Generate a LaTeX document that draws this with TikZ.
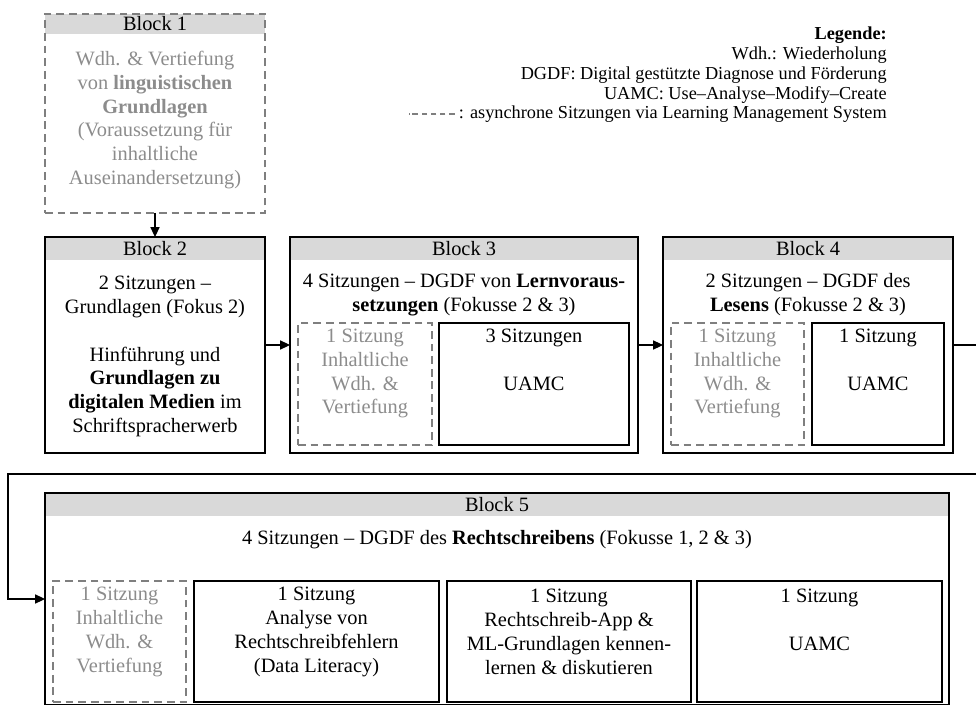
\documentclass[tikz,border=0pt]{standalone}
\usepackage{fontspec}
\setmainfont{Liberation Serif}
\usetikzlibrary{arrows.meta}

\definecolor{headgray}{HTML}{D9D9D9}
\definecolor{asyncgray}{HTML}{8C8C8C}
\definecolor{asyncline}{HTML}{7F7F7F}

\tikzset{
  sessiontext/.style={align=center, inner sep=0pt, font=\fontsize{14.5}{17}\selectfont},
  asynctext/.style={sessiontext, text=asyncgray},
  legendtext/.style={inner sep=0pt, font=\fontsize{13}{14.2}\selectfont},
  blockhead/.style={sessiontext, fill=headgray, outer sep=0pt, minimum width=#1, minimum height=0.575cm},
  blockbox/.style={draw, line width=1.3pt, outer sep=0pt, inner sep=0pt, minimum width=#1},
  asyncbox/.style={draw=asyncline, line width=1.3pt, dash pattern=on 5.5pt off 3.5pt,
                   outer sep=0pt, inner sep=0pt, minimum width=#1},
  flow/.style={->, line width=0.75pt},
}

\begin{document}
\begin{tikzpicture}[>={Triangle[length=7pt,width=6.5pt]}]
\useasboundingbox (0,0) rectangle (24.4,17.6);
\clip (0,0) rectangle (24.4,17.6);

% Block 1 (asynchron)
\node[blockhead=5.5cm, minimum height=0.5cm] (head1) at (3.875,17.0) {Block 1};
\node[asyncbox=5.5cm, minimum height=4.975cm, anchor=north] (block1) at (head1.north) {};
\node[asynctext] (text1) at (3.875,14.6) {Wdh. \& Vertiefung\\von \textbf{linguistischen}\\\textbf{Grundlagen}\\(Voraussetzung für\\inhaltliche\\Auseinandersetzung)};

% Block 2
\node[blockhead=5.5cm] (head2) at (3.875,11.3875) {Block 2};
\node[blockbox=5.5cm, minimum height=5.4cm, anchor=north] (block2) at (head2.north) {};
\node[sessiontext] (text2) at (3.875,8.6875) {2 Sitzungen –\\Grundlagen (Fokus 2)\\[17pt]Hinführung und\\\textbf{Grundlagen zu}\\\textbf{digitalen Medien} im\\Schriftspracherwerb};

% Block 3
\node[blockhead=8.7cm] (head3) at (11.6,11.3875) {Block 3};
\node[blockbox=8.7cm, minimum height=5.4cm, anchor=north] (block3) at (head3.north) {};
\node[sessiontext] (text3) at (11.6,10.225) {4 Sitzungen – DGDF von \textbf{Lernvoraus-}\\\textbf{setzungen} (Fokusse 2 \& 3)};
\node[asyncbox=3.35cm, minimum height=3.05cm] (wdh3) at (9.125,8.0) {};
\node[asynctext] (wdh3text) at (9.125,8.26) {1 Sitzung\\Inhaltliche\\Wdh. \&\\Vertiefung};
\node[blockbox=4.75cm, minimum height=3.05cm] (uamc3) at (13.35,8.0) {};
\node[sessiontext] (uamc3text) at (13.35,8.6) {3 Sitzungen\\[17pt]UAMC};

% Block 4
\node[blockhead=7.25cm] (head4) at (20.2,11.3875) {Block 4};
\node[blockbox=7.25cm, minimum height=5.4cm, anchor=north] (block4) at (head4.north) {};
\node[sessiontext] (text4) at (20.2,10.225) {2 Sitzungen – DGDF des\\\textbf{Lesens} (Fokusse 2 \& 3)};
\node[asyncbox=3.325cm, minimum height=3.05cm] (wdh4) at (18.4375,8.0) {};
\node[asynctext] (wdh4text) at (18.4375,8.26) {1 Sitzung\\Inhaltliche\\Wdh. \&\\Vertiefung};
\node[blockbox=3.3cm, minimum height=3.05cm] (uamc4) at (21.95,8.0) {};
\node[sessiontext] (uamc4text) at (21.95,8.6) {1 Sitzung\\[17pt]UAMC};

% Block 5
\node[blockhead=22.6cm] (head5) at (12.425,4.9875) {Block 5};
\node[blockbox=22.6cm, minimum height=5.3cm, anchor=north] (block5) at (head5.north) {};
\node[sessiontext] (text5) at (12.425,4.1) {4 Sitzungen – DGDF des \textbf{Rechtschreibens} (Fokusse 1, 2 \& 3)};
\node[asyncbox=3.325cm, minimum height=3.025cm] (wdh5) at (2.9875,1.5625) {};
\node[asynctext] (wdh5text) at (2.9875,1.8) {1 Sitzung\\Inhaltliche\\Wdh. \&\\Vertiefung};
\node[blockbox=6.125cm, minimum height=3.025cm] (fehler5) at (7.9125,1.5625) {};
\node[sessiontext] (fehler5text) at (7.9125,1.8) {1 Sitzung\\Analyse von\\Rechtschreibfehlern\\(Data Literacy)};
\node[blockbox=6.1cm, minimum height=3.025cm] (app5) at (14.225,1.5625) {};
\node[sessiontext] (app5text) at (14.225,1.8) {1 Sitzung\\Rechtschreib-App \&\\ML-Grundlagen kennen-\\lernen \& diskutieren};
\node[blockbox=6.125cm, minimum height=3.025cm] (uamc5) at (20.4875,1.5625) {};
\node[sessiontext] (uamc5text) at (20.4875,2.1) {1 Sitzung\\[17pt]UAMC};

% Legende
\node[legendtext, align=right, anchor=east] (legend) at (22.175,15.975) {\textbf{Legende:}\\Wdh.: Wiederholung\\DGDF: Digital gestützte Diagnose und Förderung\\UAMC: Use–Analyse–Modify–Create};
\node[legendtext, anchor=east] (legendlms) at (22.175,14.75) {: asynchrone Sitzungen via Learning Management System};
\draw[asyncline, line width=0.8pt, dash pattern=on 4pt off 2.5pt] ([xshift=-0.1cm]legendlms.west) -- ++(-1.15,0);

% Verbindungen
\path[flow] (block1) edge (block2);
\path[flow] (block2) edge (block3);
\path[flow] (block3) edge (block4);
\draw[flow] (block4.east) -- ++(1.5,0) |- (0.2,5.75) |- (block5.west);

\end{tikzpicture}
\end{document}
